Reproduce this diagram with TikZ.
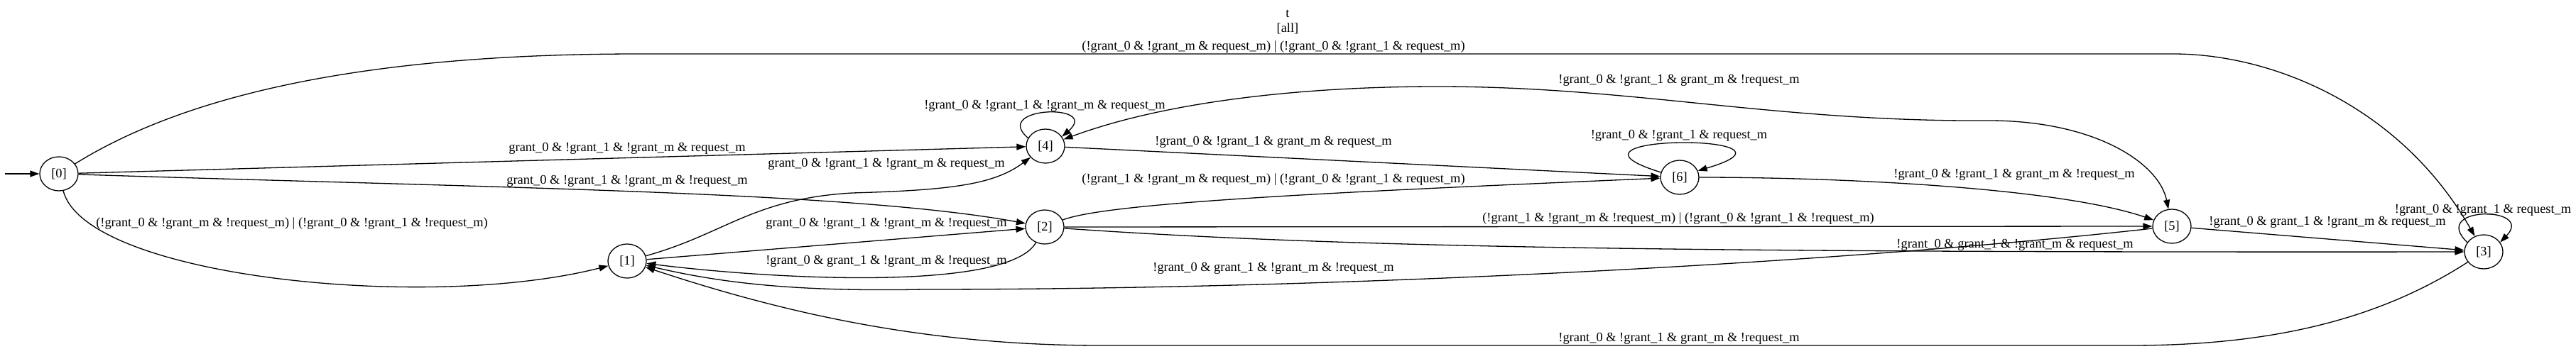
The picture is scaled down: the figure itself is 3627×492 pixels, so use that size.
\documentclass[tikz,border=0pt]{standalone}
\usepackage{fontspec}
\setmainfont{Liberation Serif}
\usetikzlibrary{arrows.meta,shapes.geometric}
\begin{document}
\begin{tikzpicture}[x=1pt,y=-1pt,
  font=\fontsize{18.4}{21}\selectfont,
  state/.style={draw,ellipse,minimum width=54pt,minimum height=48pt,inner sep=0pt,line width=1.3pt},
  tr/.style={draw,line width=1.3pt,-{Triangle[length=13pt,width=9pt]}},
  trboth/.style={draw,line width=1.3pt,{Triangle[length=13pt,width=9pt]}-{Triangle[length=13pt,width=9pt]}},
  lbl/.style={inner sep=0pt}]
\useasboundingbox (0,0) rectangle (3627,492);
\node[state] (n0) at (83,245) {[0]};
\node[state] (n1) at (883,368) {[1]};
\node[state] (n2) at (1471,320) {[2]};
\node[state] (n3) at (3497,355) {[3]};
\node[state] (n4) at (1472,206) {[4]};
\node[state] (n5) at (3058,319) {[5]};
\node[state] (n6) at (2365,250) {[6]};
\coordinate (init) at (7,245);
\node[lbl,align=center] (title) at (1813,31) {t\\{}[all]};

\draw[tr] (init) -- (n0);
\draw[tr] (n0) .. controls (300,110) and (600,76) .. (900,76) -- (3060,76) .. controls (3200,76) and (3380,150) .. (n3)
  node[lbl] (l03) at (1793,66) {(!grant\_0 \& !grant\_m \& request\_m) | (!grant\_0 \& !grant\_1 \& request\_m)};
\draw[tr] (n0) -- (n4)
  node[lbl] (l04) at (883,209) {grant\_0 \& !grant\_1 \& !grant\_m \& request\_m};
\draw[tr] (n0) .. controls (700,265) and (1200,270) .. (n2)
  node[lbl] (l02) at (883,255) {grant\_0 \& !grant\_1 \& !grant\_m \& !request\_m};
\draw[tr] (n0) .. controls (120,390) and (600,440) .. (n1)
  node[lbl] (l01) at (411,315) {(!grant\_0 \& !grant\_m \& !request\_m) | (!grant\_0 \& !grant\_1 \& !request\_m)};
\draw[tr] (n1) .. controls (1020,330) and (1060,280) .. (1200,272) .. controls (1340,268) and (1400,260) .. (n4)
  node[lbl] (l14) at (1248,231) {grant\_0 \& !grant\_1 \& !grant\_m \& request\_m};
\draw[tr] (n1) -- (n2)
  node[lbl] (l12) at (1248,315) {grant\_0 \& !grant\_1 \& !grant\_m \& !request\_m};
\draw[tr] (n2) .. controls (1420,410) and (1100,395) .. (n1)
  node[lbl] (l21) at (1248,368) {!grant\_0 \& grant\_1 \& !grant\_m \& !request\_m};
\draw[tr] (n4.155) .. controls (1395,150) and (1550,145) .. (n4.30)
  node[lbl] (l44) at (1471,149) {!grant\_0 \& !grant\_1 \& !grant\_m \& request\_m};
\draw[tr] (n4) -- (n6)
  node[lbl] (l46) at (1793,200) {!grant\_0 \& !grant\_1 \& grant\_m \& request\_m};
\draw[tr] (n2) .. controls (1560,285) and (1900,270) .. (n6)
  node[lbl] (l26) at (1793,253) {(!grant\_1 \& !grant\_m \& request\_m) | (!grant\_0 \& !grant\_1 \& request\_m)};
\draw[tr] (n2) -- (n5)
  node[lbl] (l25) at (2363,308) {(!grant\_1 \& !grant\_m \& !request\_m) | (!grant\_0 \& !grant\_1 \& !request\_m)};
\draw[tr] (n2) .. controls (1900,350) and (2400,356) .. (n3)
  node[lbl] (l23) at (2837,345) {!grant\_0 \& grant\_1 \& !grant\_m \& request\_m};
\draw[tr] (n5) .. controls (2600,370) and (1900,408) .. (1300,408) .. controls (1100,412) and (1000,395) .. (n1)
  node[lbl] (l51) at (1793,378) {!grant\_0 \& grant\_1 \& !grant\_m \& !request\_m};
\draw[trboth] (n4) .. controls (1650,140) and (1850,122) .. (2024,122) .. controls (2300,122) and (2500,172) .. (2800,170) .. controls (2950,170) and (3040,230) .. (n5)
  node[lbl] (l45) at (2364,113) {!grant\_0 \& !grant\_1 \& grant\_m \& !request\_m};
\draw[tr] (n6.165) .. controls (2160,188) and (2570,188) .. (n6.20)
  node[lbl] (l66) at (2364,191) {!grant\_0 \& !grant\_1 \& request\_m};
\draw[tr] (n6) .. controls (2600,250) and (2900,265) .. (n5)
  node[lbl] (l65) at (2836,246) {!grant\_0 \& !grant\_1 \& grant\_m \& !request\_m};
\draw[tr] (n5) -- (n3)
  node[lbl] (l53) at (3277,313) {!grant\_0 \& grant\_1 \& !grant\_m \& request\_m};
\draw[tr] (n3.150) .. controls (3420,290) and (3570,290) .. (n3.30)
  node[lbl] (l33) at (3496,296) {!grant\_0 \& !grant\_1 \& request\_m};
\draw[tr] (n3) .. controls (3350,450) and (3200,487) .. (3000,487) -- (1550,487) .. controls (1300,487) and (1100,440) .. (n1)
  node[lbl] (l31) at (2364,477) {!grant\_0 \& !grant\_1 \& grant\_m \& !request\_m};
\end{tikzpicture}
\end{document}
